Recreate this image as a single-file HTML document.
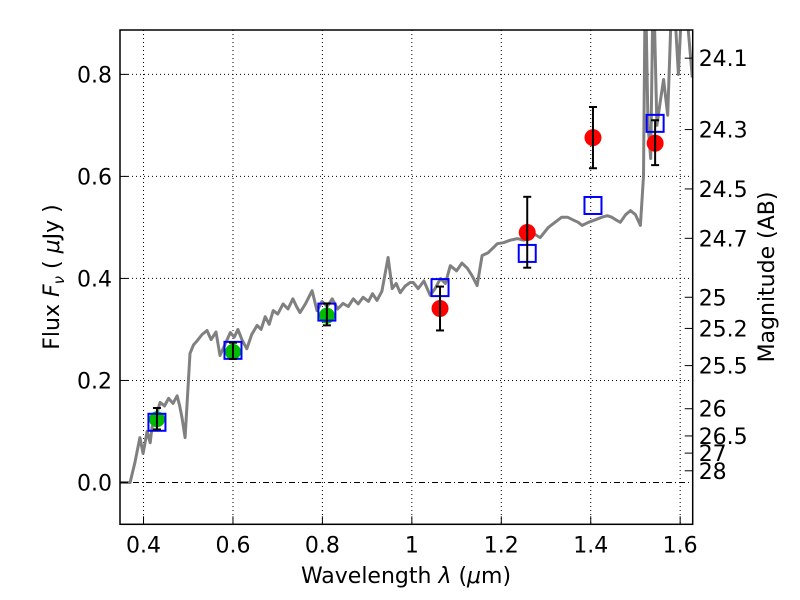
<!DOCTYPE html>
<html><head><meta charset="utf-8"><style>
body{margin:0;background:#fff;}
svg{display:block;font-family:"DejaVu Sans","Liberation Sans",sans-serif;}
</style></head><body>
<svg id="chart" width="800" height="600" viewBox="0 0 800 600" xmlns="http://www.w3.org/2000/svg">
<rect x="0" y="0" width="800" height="600" fill="#fff"/>
<g id="grid"></g>
<g id="plot"></g>
<g id="axes"></g>
<text x="406" y="583" font-size="22" text-anchor="middle">Wavelength  <tspan font-style="italic">λ</tspan> (<tspan font-style="italic">μ</tspan>m)</text>
<text transform="translate(59,277) rotate(-90)" font-size="22" text-anchor="middle">Flux  <tspan font-style="italic">F</tspan><tspan font-style="italic" font-size="15" dy="5">ν</tspan><tspan dy="-5">  ( </tspan><tspan font-style="italic">μ</tspan>Jy )</text>
<text transform="translate(774,277) rotate(-90)" font-size="22" text-anchor="middle">Magnitude (AB)</text>
</svg>
<script>
const specX=[0.359,0.370,0.381,0.392,0.399,0.408,0.415,0.419,0.428,0.437,0.447,0.456,0.466,0.475,0.481,0.486,0.493,0.504,0.512,0.520,0.531,0.542,0.551,0.562,0.571,0.582,0.594,0.603,0.611,0.620,0.631,0.642,0.654,0.663,0.672,0.681,0.690,0.700,0.712,0.723,0.734,0.742,0.750,0.762,0.777,0.788,0.799,0.811,0.822,0.834,0.846,0.858,0.869,0.880,0.891,0.903,0.912,0.922,0.933,0.947,0.956,0.965,0.974,0.985,0.996,1.003,1.014,1.027,1.041,1.052,1.064,1.075,1.086,1.100,1.112,1.124,1.135,1.146,1.157,1.170,1.182,1.191,1.205,1.220,1.236,1.250,1.268,1.287,1.305,1.320,1.335,1.348,1.360,1.372,1.381,1.395,1.410,1.425,1.437,1.447,1.456,1.466,1.478,1.489,1.500,1.511,1.518,1.522,1.528,1.534,1.540,1.548,1.556,1.563,1.572,1.583,1.596,1.607,1.627];
const specY=[0.0,0.0,0.04,0.088,0.057,0.10,0.078,0.108,0.13,0.157,0.15,0.165,0.155,0.17,0.15,0.127,0.088,0.253,0.27,0.278,0.29,0.298,0.28,0.295,0.249,0.27,0.294,0.285,0.30,0.28,0.262,0.29,0.308,0.30,0.325,0.31,0.337,0.33,0.35,0.34,0.36,0.345,0.333,0.35,0.376,0.337,0.355,0.345,0.36,0.34,0.351,0.345,0.36,0.35,0.363,0.355,0.37,0.357,0.375,0.441,0.380,0.39,0.372,0.385,0.392,0.392,0.38,0.395,0.367,0.38,0.40,0.39,0.425,0.415,0.43,0.42,0.405,0.386,0.445,0.45,0.46,0.468,0.47,0.475,0.478,0.475,0.49,0.48,0.50,0.51,0.52,0.52,0.515,0.51,0.504,0.51,0.515,0.52,0.523,0.52,0.515,0.51,0.525,0.533,0.525,0.504,0.60,1.0,0.70,0.635,1.0,0.70,0.75,0.79,0.72,1.0,0.80,1.0,0.794];
const greenX=[0.430,0.600,0.810];
const greenY=[0.124,0.256,0.327];
const greenLo=[0.104,0.242,0.308];
const greenHi=[0.146,0.274,0.351];
const redX=[1.063,1.258,1.405,1.544];
const redY=[0.341,0.490,0.676,0.665];
const redLo=[0.298,0.421,0.616,0.622];
const redHi=[0.384,0.560,0.736,0.710];
const boxX=[0.430,0.600,0.810,1.063,1.258,1.405,1.544];
const boxY=[0.118,0.259,0.334,0.382,0.449,0.543,0.704];
const xTicks=[0.4,0.6,0.8,1.0,1.2,1.4,1.6];
const xTickLabels=["0.4","0.6","0.8","1","1.2","1.4","1.6"];
const yTicks=[0.0,0.2,0.4,0.6,0.8];
const yTickLabels=["0.0","0.2","0.4","0.6","0.8"];
const magTicks=[24.1,24.3,24.5,24.7,25,25.2,25.5,26,26.5,27,28];
const magLabels=["24.1","24.3","24.5","24.7","25","25.2","25.5","26","26.5","27","28"];

const L=120,R=692.7,T=30,B=524.3;
const xmin=0.3474,xmax=1.628,ymin=-0.082,ymax=0.887;
const sx=v=>L+(v-xmin)/(xmax-xmin)*(R-L);
const sy=v=>B-(v-ymin)/(ymax-ymin)*(B-T);
const NS="http://www.w3.org/2000/svg";
function mk(tag,attrs,parent){const e=document.createElementNS(NS,tag);for(const k in attrs)e.setAttribute(k,attrs[k]);parent.appendChild(e);return e;}
const grid=document.getElementById('grid'),plot=document.getElementById('plot'),axes=document.getElementById('axes');

const defs=mk('defs',{},document.getElementById('chart'));
const cp=mk('clipPath',{id:'clip'},defs);
mk('rect',{x:L,y:T,width:R-L,height:B-T},cp);
plot.setAttribute('clip-path','url(#clip)');

xTicks.forEach((v,i)=>{
  const g=mk('line',{x1:sx(v),x2:sx(v),y1:T,y2:B,stroke:'#000','stroke-width':1,'stroke-dasharray':'1,3'},grid);
  
  
  const t=mk('line',{x1:sx(v),x2:sx(v),y1:B,y2:B-8,stroke:'#000','stroke-width':1},axes);
  
  
  const lb=mk('text',{x:sx(v),y:B+28,'font-size':22,'text-anchor':'middle'},axes);
  lb.textContent=xTickLabels[i];
  
  
});
yTicks.forEach((v,i)=>{
  const g=mk('line',{x1:L,x2:R,y1:sy(v),y2:sy(v),stroke:'#000','stroke-width':1,'stroke-dasharray':v===0?'6,3,1,3':'1,3'},grid);
  
  
  const t=mk('line',{x1:L,x2:L+8,y1:sy(v),y2:sy(v),stroke:'#000','stroke-width':1},axes);
  
  
  const lb=mk('text',{x:L-8,y:sy(v)+8,'font-size':22,'text-anchor':'end'},axes);
  lb.textContent=yTickLabels[i];
  
  
});
magTicks.forEach((m,i)=>{
  const f=Math.pow(10,(23.9-m)/2.5);
  const y=sy(f);
  const t=mk('line',{x1:R-8,x2:R,y1:y,y2:y,stroke:'#000','stroke-width':1},axes);
  
  
  const lb=mk('text',{x:R+6,y:y+8,'font-size':22},axes);
  lb.textContent=magLabels[i];
  
  
});

let d='M'+sx(0.3474)+','+sy(0);
specX.forEach((x,i)=>{d+=' L'+sx(x).toFixed(1)+','+sy(specY[i]).toFixed(1);});
const sp=mk('path',{d:d,fill:'none',stroke:'#808080','stroke-width':3,'stroke-linejoin':'round'},plot);



function err(x,lo,hi,name){
  const g=mk('g',{stroke:'#000','stroke-width':2},plot);
  
  
  mk('line',{x1:sx(x),x2:sx(x),y1:sy(lo),y2:sy(hi)},g);
  mk('line',{x1:sx(x)-4,x2:sx(x)+4,y1:sy(lo),y2:sy(lo)},g);
  mk('line',{x1:sx(x)-4,x2:sx(x)+4,y1:sy(hi),y2:sy(hi)},g);
}
greenX.forEach((x,i)=>{
  const c=mk('circle',{cx:sx(x),cy:sy(greenY[i]),r:8,fill:'#00bb00'},plot);
  
  
});
redX.forEach((x,i)=>{
  const c=mk('circle',{cx:sx(x),cy:sy(redY[i]),r:8.5,fill:'#ff0000'},plot);
  
  
});
boxX.forEach((x,i)=>{
  const r=mk('rect',{x:sx(x)-8.5,y:sy(boxY[i])-8.5,width:17,height:17,fill:'none',stroke:'#0000ff','stroke-width':2},plot);
  
  
});
greenX.forEach((x,i)=>err(x,greenLo[i],greenHi[i],'green-error-bar'));
redX.forEach((x,i)=>err(x,redLo[i],redHi[i],'red-error-bar'));

const fr=mk('rect',{x:L,y:T,width:R-L,height:B-T,fill:'none',stroke:'#000','stroke-width':1.5},axes);


</script>
</body></html>
